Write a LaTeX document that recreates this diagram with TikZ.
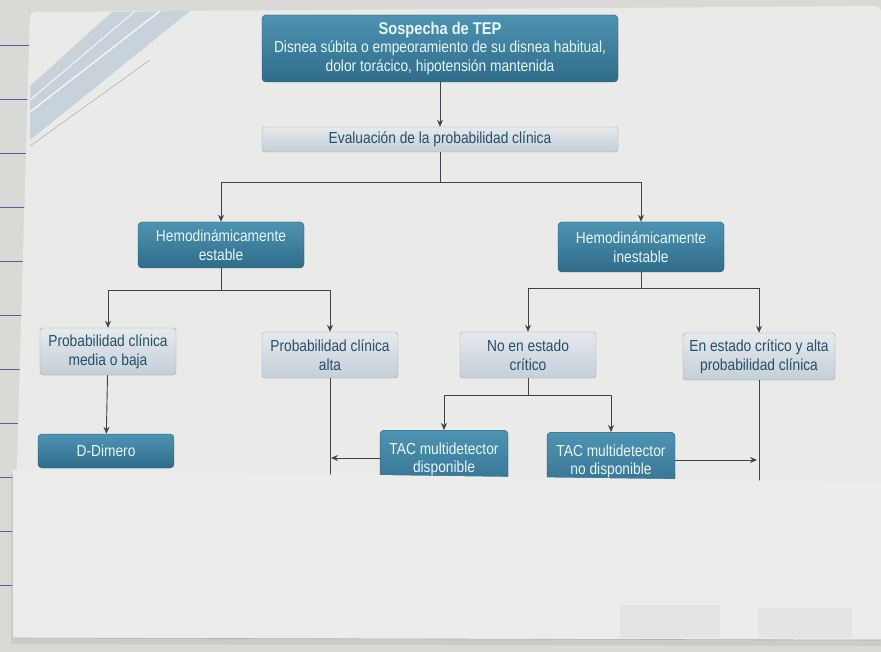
\documentclass[tikz,border=0pt]{standalone}
\usepackage{fontspec}
\setmainfont{Liberation Sans}[FakeStretch=0.86]
\usetikzlibrary{arrows.meta}
\definecolor{pagebg}{HTML}{D9DAD6}
\definecolor{paper}{HTML}{EAEAE8}
\definecolor{sheet}{HTML}{ECECEA}
\definecolor{darktop}{HTML}{4E93B2}
\definecolor{darkbot}{HTML}{2F6C8A}
\definecolor{lighttop}{HTML}{E6EAED}
\definecolor{lightbot}{HTML}{C3CFD7}
\definecolor{lighttext}{HTML}{264F68}
\definecolor{linec}{HTML}{3E4448}
\definecolor{band}{HTML}{BFCCD8}
\tikzset{
  darkbox/.style={rounded corners=4pt, top color=darktop, bottom color=darkbot,
    draw=darkbot!80!black, line width=0.4pt, text=white!90!cyan, align=center,
    font=\fontsize{16}{18.5}\selectfont, inner sep=2pt},
  lightbox/.style={rounded corners=3pt, top color=lighttop, bottom color=lightbot,
    draw=lightbot!80!black, line width=0.4pt, text=lighttext, align=center,
    font=\fontsize{16}{19}\selectfont, inner sep=2pt},
  conn/.style={draw=linec, line width=0.9pt},
  arr/.style={conn, -{Stealth[length=7pt,width=6pt]}},
}
\begin{document}
\begin{tikzpicture}[x=1pt,y=-1pt]
\useasboundingbox (0,0) rectangle (881,652);
% notebook background
\fill[pagebg] (0,0) rectangle (881,652);
\foreach \yy in {45,99,153,207,261,315,369,423,477,531,585}
  \draw[blue!30!gray, line width=0.8pt] (0,\yy) -- (40,\yy);
% diagram page
\fill[paper, rounded corners=6pt] (30,12) -- (881,6) -- (881,500) -- (16,500) -- cycle;
% diagonal decorative band top-left
\fill[band, opacity=0.8] (30,86) -- (112,12) -- (190,11) -- (30,140) -- cycle;
\draw[white!80!band, line width=1.5pt] (30,112) -- (160,11);
\draw[white!80!band, line width=1pt] (30,100) -- (135,11);
\draw[gray!60, line width=0.6pt] (30,146) -- (150,60);

% nodes
\node[darkbox, minimum width=356pt, minimum height=67pt] (tep) at (440,48.5)
  {{\bfseries\fontsize{17}{19}\selectfont Sospecha de TEP}\\[0pt]
   Disnea súbita o empeoramiento de su disnea habitual,\\
   dolor torácico, hipotensión mantenida};
\node[lightbox, minimum width=356pt, minimum height=25pt] (eval) at (440,139.5)
  {Evaluación de la probabilidad clínica};
\node[darkbox, minimum width=166pt, minimum height=46pt] (est) at (221,245)
  {Hemodinámicamente\\estable};
\node[darkbox, minimum width=166pt, minimum height=50pt] (inest) at (641,247)
  {Hemodinámicamente\\inestable};
\node[lightbox, minimum width=136pt, minimum height=47pt] (media) at (108,351.5)
  {Probabilidad clínica\\media o baja};
\node[lightbox, minimum width=136pt, minimum height=46pt] (alta) at (330,355)
  {Probabilidad clínica\\alta};
\node[lightbox, minimum width=136pt, minimum height=46pt] (nocrit) at (528,355)
  {No en estado\\crítico};
\node[lightbox, minimum width=152pt, minimum height=47pt] (crit) at (759,356.5)
  {En estado crítico y alta\\probabilidad clínica};
\node[darkbox, minimum width=136pt, minimum height=34pt] (ddim) at (106,451)
  {D-Dimero};
\node[darkbox, minimum width=128pt, minimum height=62pt, anchor=north, align=center] (tac1) at (444,430)
  {\rule{0pt}{22pt}TAC multidetector\\disponible\\ \strut};
\node[darkbox, minimum width=128pt, minimum height=62pt, anchor=north] (tac2) at (611,432)
  {\rule{0pt}{22pt}TAC multidetector\\no disponible\\ \strut};

% connector helper coordinates
\coordinate (s1) at (440,182);
\coordinate (s1l) at (221,182);
\coordinate (s1r) at (641,182);
\coordinate (s2) at (221,290);
\coordinate (s2l) at (108,290);
\coordinate (s2r) at (330,290);
\coordinate (s3) at (641,288);
\coordinate (s3l) at (528,288);
\coordinate (s3r) at (759,288);
\coordinate (s4) at (528,395);
\coordinate (s4l) at (444,395);
\coordinate (s4r) at (611,395);
\coordinate (altaend) at (330,495);
\coordinate (critend) at (759,495);
\coordinate (altahit) at (330,458);
\coordinate (crithit) at (759,460);

% connectors
\draw[arr] (tep) -- (eval);
\draw[conn] (eval) -- (s1);
\draw[conn] (s1l) -- (s1r);
\draw[arr] (s1l) -- (est);
\draw[arr] (s1r) -- (inest);
\draw[conn] (est) -- (s2);
\draw[conn] (s2l) -- (s2r);
\draw[arr] (s2l) -- (media);
\draw[arr] (s2r) -- (alta);
\draw[conn] (inest) -- (s3);
\draw[conn] (s3l) -- (s3r);
\draw[arr] (s3l) -- (nocrit);
\draw[arr] (s3r) -- (crit);
\draw[arr] (media) -- (ddim);
\draw[conn] (alta) -- (altaend);
\draw[conn] (crit) -- (critend);
\draw[conn] (nocrit) -- (s4);
\draw[conn] (s4l) -- (s4r);
\draw[arr] (s4l) -- (tac1);
\draw[arr] (s4r) -- (tac2);
\draw[arr] (tac1.west |- altahit) -- ([xshift=1pt]altahit);
\draw[arr] (tac2.east |- crithit) -- ([xshift=-2pt]crithit);

% covering sheet of paper
\fill[gray!50, opacity=0.5] (11,474) -- (881,486) -- (881,646) -- (11,644) -- cycle;
\fill[sheet] (13,470) -- (881,482) -- (881,640) -- (13,638) -- cycle;
\draw[gray!60, line width=0.6pt] (13,638) -- (881,640);
\fill[gray!30, opacity=0.4] (620,605) rectangle (720,638);
\fill[gray!30, opacity=0.4] (758,608) rectangle (852,638);
\end{tikzpicture}
\end{document}
